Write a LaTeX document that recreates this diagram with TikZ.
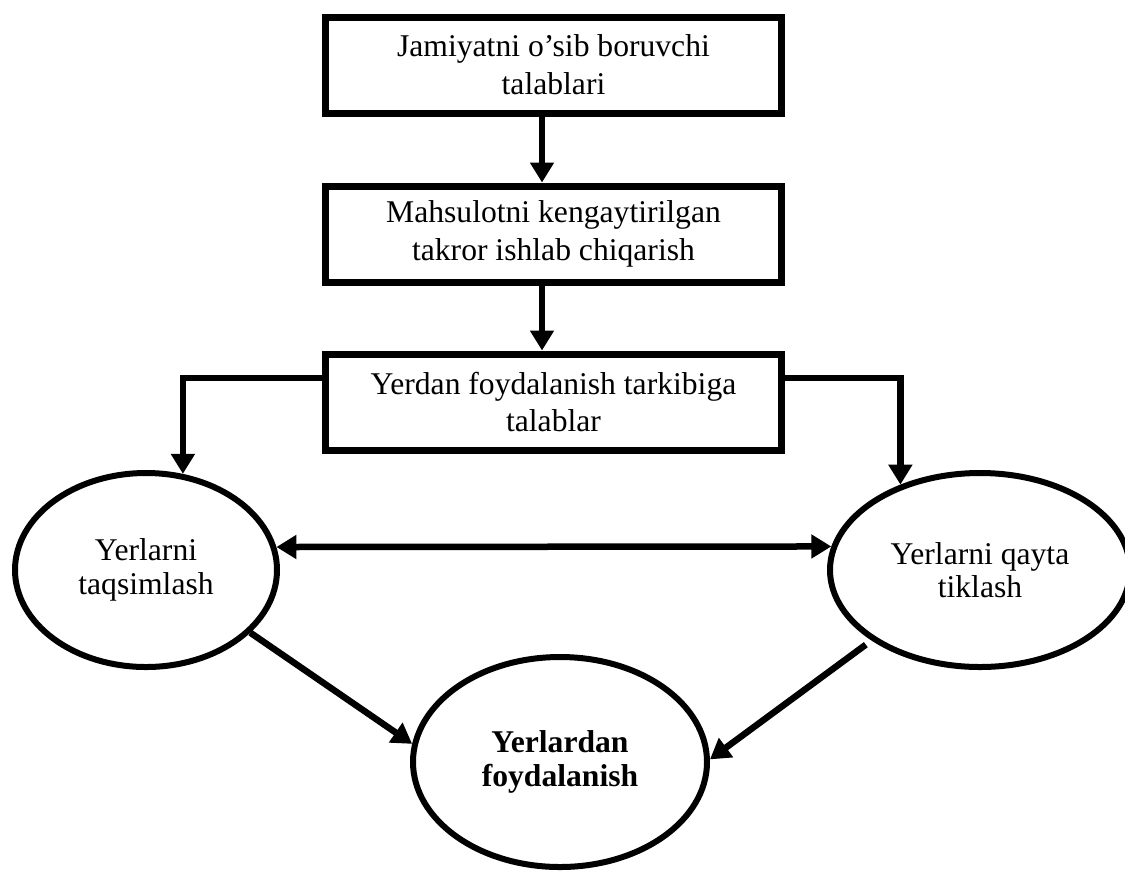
\documentclass[tikz,border=0pt]{standalone}
\usepackage{fontspec}
\setmainfont{Liberation Serif}
\usetikzlibrary{arrows.meta,shapes.geometric}
\definecolor{LineClr}{rgb}{0,0,0}

\begin{document}
\begin{tikzpicture}[
  BoxStl/.style={draw=LineClr,line width=0.14cm,rectangle,minimum width=9.12cm,minimum height=1.92cm,
    align=center,font=\fontsize{18}{21.6}\selectfont,inner sep=0pt},
  OvalStl/.style={draw=LineClr,line width=0.12cm,ellipse,align=center,inner sep=0pt,
    font=\fontsize{18}{19}\selectfont},
  ArrStl/.style={draw=LineClr,line width=0.13cm,-{Triangle[length=0.4cm,width=0.46cm]}}]
\useasboundingbox (0,0) rectangle (22.5,-17.46);

\node[BoxStl] (b1) at (11.07,-1.30) {Jamiyatni o’sib boruvchi\\talablari};
\node[BoxStl] (b2) at (11.07,-4.68) {Mahsulotni kengaytirilgan\\takror ishlab chiqarish};
\node[BoxStl] (b3) at (11.07,-8.04) {Yerdan foydalanish tarkibiga\\talablar};

\node[OvalStl,minimum width=5.24cm,minimum height=3.88cm] (e1) at (2.92,-11.40) {Yerlarni\\taqsimlash};
\node[OvalStl,minimum width=6.0cm,minimum height=3.88cm] (e2) at (19.60,-11.40) {Yerlarni qayta\\tiklash};
\node[OvalStl,minimum width=5.88cm,minimum height=4.2cm,font=\fontsize{18}{19}\selectfont\bfseries] (e3) at (11.20,-15.24) {Yerlardan\\foydalanish};

\draw[ArrStl] ([xshift=-0.23cm]b1.south) -- ([xshift=-0.23cm]b2.north);
\draw[ArrStl] ([xshift=-0.23cm]b2.south) -- ([xshift=-0.23cm]b3.north);

\draw[ArrStl] ([yshift=0.48cm]b3.west) -| (e1.69);
\draw[ArrStl] ([yshift=0.48cm]b3.east) -| (e2.133);

\draw[ArrStl,{Triangle[length=0.4cm,width=0.46cm]}-{Triangle[length=0.4cm,width=0.46cm]}] (e1.10) -- (e2.171);

\draw[ArrStl] (e1.-31) -- (e3.173);
\draw[ArrStl,shorten <=4pt] (e2.213) -- (e3.1);

\end{tikzpicture}
\end{document}
